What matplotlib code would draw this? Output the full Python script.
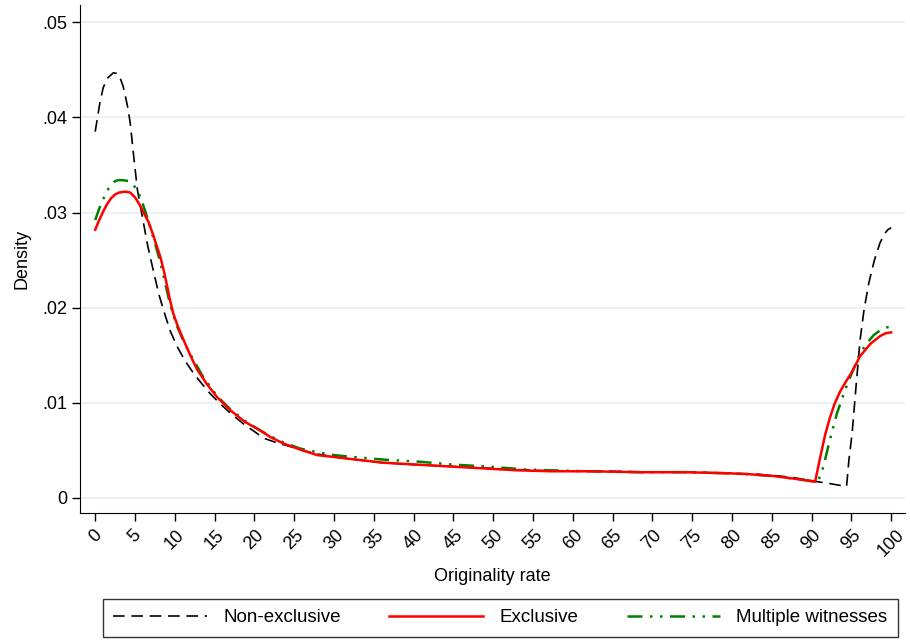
import matplotlib.pyplot as plt

plt.rcParams['font.family'] = ['Liberation Sans', 'DejaVu Sans']

# Non-exclusive (black dashed)
x_nonex = [0, 0.6, 1.0, 1.5, 2.3, 2.8, 3.1, 3.5, 3.8, 4.1, 4.4, 4.8, 5.3, 6.0, 6.6,
           7.3, 8.0, 8.6, 9.4, 10.3, 11.3, 12.35, 13.4, 14.4, 15.7, 17, 18.6, 20.3,
           21.1, 22.8, 24.5, 26, 28, 30, 33, 36, 40, 45, 50, 55, 60, 65, 70, 75, 80,
           83, 86, 88, 90, 92.3, 94.4, 94.7, 95.1, 95.6, 96.1, 96.6, 97.2, 97.9,
           98.6, 99.2, 99.6, 100]
y_nonex = [0.0385, 0.0416, 0.0431, 0.0441, 0.0447, 0.0446, 0.0442, 0.0433, 0.0422,
           0.0410, 0.0394, 0.0362, 0.0324, 0.0292, 0.0265, 0.0239, 0.0214, 0.0197,
           0.0176, 0.0159, 0.0144, 0.0131, 0.0120, 0.0110, 0.0099, 0.0089, 0.0078,
           0.0068, 0.0063, 0.0058, 0.0054, 0.0050, 0.0046, 0.0043, 0.0040, 0.0037,
           0.0035, 0.0033, 0.0031, 0.0029, 0.0028, 0.0028, 0.0027, 0.0027, 0.0026,
           0.0025, 0.0023, 0.0021, 0.0018, 0.0015, 0.0012, 0.0040, 0.0068, 0.0118,
           0.0166, 0.0198, 0.0226, 0.0250, 0.0268, 0.0278, 0.0282, 0.0284]

# Exclusive (red solid)
x_excl = [0, 0.5, 1, 1.5, 2, 2.5, 3, 3.8, 4.4, 5, 5.6, 6.2, 6.7, 7.3, 7.8, 8.2, 8.7,
          9.1, 9.4, 9.8, 10.4, 11.1, 12, 12.8, 14, 15.3, 17, 18.8, 20.7, 22, 23.7,
          25.7, 27.9, 30, 32, 36.2, 40.4, 44.6, 48.8, 53, 57.2, 62, 68.5, 74, 79,
          82, 85.2, 88, 90.45, 91.1, 91.7, 92.3, 92.9, 93.6, 94.3, 95.05, 96.1,
          97.4, 98.6, 99.3, 100]
y_excl = [0.0282, 0.0292, 0.0301, 0.0309, 0.0315, 0.0319, 0.0321, 0.0322, 0.0321,
          0.0316, 0.0308, 0.0298, 0.0290, 0.0276, 0.0263, 0.0253, 0.0236, 0.0220,
          0.0208, 0.0194, 0.0180, 0.0166, 0.0149, 0.0135, 0.0120, 0.0106, 0.0092,
          0.0080, 0.0071, 0.0064, 0.0057, 0.0051, 0.0045, 0.0043, 0.0041, 0.0037,
          0.0035, 0.0033, 0.0031, 0.0029, 0.0028, 0.0028, 0.0027, 0.0027, 0.0026,
          0.0025, 0.0023, 0.0020, 0.0017, 0.0043, 0.0066, 0.0084, 0.0099, 0.0112,
          0.0122, 0.0132, 0.0149, 0.0162, 0.0170, 0.0173, 0.0174]

# Multiple witnesses (green dash-dot-dot)
x_multi = [0, 0.5, 1, 1.5, 2, 2.5, 2.9, 3.5, 4.2, 4.8, 5.2, 5.7, 6.3, 6.9, 7.5, 8.2,
           8.7, 9.2, 9.7, 10.3, 11.3, 12.35, 13.5, 15.3, 17, 18.8, 20.7, 22, 23.7,
           25.7, 27.9, 30, 32.4, 36.6, 40.8, 45, 49.2, 53.8, 57.2, 62, 68.5, 74, 79,
           82, 85.2, 88, 90.8, 91.5, 92.3, 93.2, 94.2, 95.05, 96.1, 96.9, 97.8,
           98.6, 99.3, 100]
y_multi = [0.0292, 0.0304, 0.0314, 0.0323, 0.0329, 0.0333, 0.0334, 0.0334, 0.0333,
           0.0329, 0.0324, 0.0316, 0.0301, 0.0285, 0.0268, 0.0247, 0.0229, 0.0211,
           0.0195, 0.0180, 0.0161, 0.0145, 0.0128, 0.0107, 0.0093, 0.0081, 0.0071,
           0.0065, 0.0058, 0.0052, 0.0048, 0.0045, 0.0043, 0.0040, 0.0038, 0.0035,
           0.0033, 0.0030, 0.0029, 0.0028, 0.0027, 0.0027, 0.0026, 0.0025, 0.0023,
           0.0020, 0.0017, 0.0033, 0.0061, 0.0089, 0.0113, 0.0131, 0.0152, 0.0162,
           0.0171, 0.0176, 0.0179, 0.0180]

x_ticks = list(range(0, 101, 5))
y_ticks = [0, 0.01, 0.02, 0.03, 0.04, 0.05]
y_tick_labels = ['0', '.01', '.02', '.03', '.04', '.05']

fig = plt.figure(figsize=(9.1, 6.43), dpi=100)
ax = fig.add_axes([0.088, 0.202, 0.907, 0.79])

# light horizontal grid like Stata
for yv in y_ticks:
    ax.axhline(yv, color='#eaf1f3', lw=1.5, zorder=0)

ax.plot(x_nonex, y_nonex, color='black', lw=1.2, dashes=(7, 4),
        label='Non-exclusive', zorder=2)
ax.plot(x_excl, y_excl, color='#ff0000', lw=1.8, label='Exclusive', zorder=4)
ax.plot(x_multi, y_multi, color='#008000', lw=1.8, dashes=(6, 3, 1, 3, 1, 3),
        label='Multiple witnesses', zorder=3)

ax.set_xlim(-1.9, 101.8)
ax.set_ylim(-0.0016, 0.0518)
ax.set_xticks(x_ticks)
ax.set_xticklabels([str(t) for t in x_ticks], rotation=45, fontsize=13)
ax.set_yticks(y_ticks)
ax.set_yticklabels(y_tick_labels, fontsize=13)
ax.tick_params(direction='out', length=6, width=1)
ax.spines['top'].set_visible(False)
ax.spines['right'].set_visible(False)
ax.set_xlabel('Originality rate', fontsize=13, labelpad=6)
ax.set_ylabel('Density', fontsize=13, labelpad=8)

# legend row below the plot
leg = fig.legend(ncol=3, loc='center', bbox_to_anchor=(0.55, 0.039),
                 fontsize=13.5, frameon=True, fancybox=False, edgecolor='black',
                 handlelength=5, columnspacing=2.6, handletextpad=0.85,
                 borderpad=0.55, borderaxespad=0)
leg.get_frame().set_linewidth(1)

plt.savefig('out.png', dpi=100)
